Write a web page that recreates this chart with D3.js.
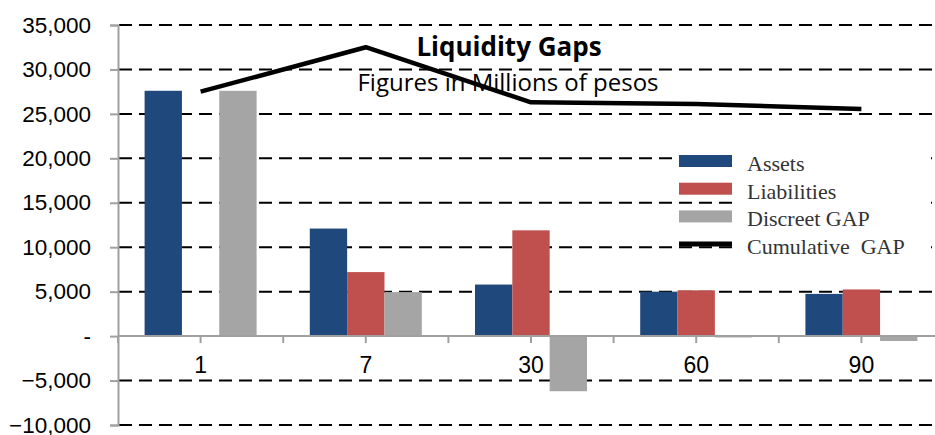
<!DOCTYPE html>
<html>
<head>
<meta charset="utf-8">
<script src="https://cdn.jsdelivr.net/npm/d3@7"></script>
<style>
  body { margin: 0; background: #fff; }
  svg { display: block; }
</style>
</head>
<body>
<div id="chart"></div>
<script>
var categories = ["1", "7", "30", "60", "90"];
var series = ["Assets", "Liabilities", "Discreet GAP"];
var assets = [27600, 12100, 5800, 5000, 4750];
var liabilities = [40, 7200, 11900, 5150, 5250];
var discreetGap = [27600, 4950, -6200, -150, -550];
var cumulativeGap = [27500, 32500, 26300, 26100, 25550];
var yTicks = [-10000, -5000, 0, 5000, 10000, 15000, 20000, 25000, 30000, 35000];

var colors = {"Assets": "#1F497D", "Liabilities": "#C0504D", "Discreet GAP": "#A5A5A5"};

var W = 935, H = 435;
var svg = d3.select("#chart").append("svg")
    .attr("width", W)
    .attr("height", H);

// scales
var x = d3.scaleBand()
    .domain(categories)
    .range([118, 944])
    .paddingInner(0.322)
    .paddingOuter(0.161);

var xSub = d3.scaleBand()
    .domain(series)
    .range([0, x.bandwidth()]);

var y = d3.scaleLinear()
    .domain([-10000, 35000])
    .range([425, 25]);

var rows = categories.map(function(c, i) {
  return {cat: c, vals: [
    {s: "Assets", v: assets[i]},
    {s: "Liabilities", v: liabilities[i]},
    {s: "Discreet GAP", v: discreetGap[i]}
  ]};
});

// gridlines (dashed), zero is the axis line
svg.append("g")
  .selectAll("line")
  .data(yTicks.filter(function(d) { return d !== 0; }))
  .enter().append("line")
    .attr("x1", 119)
    .attr("x2", W)
    .attr("y1", function(d) { return y(d); })
    .attr("y2", function(d) { return y(d); })
    .style("stroke", "#000")
    .style("stroke-width", 2)
    .style("stroke-dasharray", "13,7");

// y axis
var yAxis = d3.axisLeft(y)
    .tickValues(yTicks)
    .tickSize(8)
    .tickPadding(19)
    .tickFormat(function(d) { return d === 0 ? "-" : d3.format(",")(d); });

var gy = svg.append("g")
    .attr("transform", "translate(118,0)")
    .call(yAxis);
gy.select(".domain").style("stroke", "#A0A0A0").style("stroke-width", 2);
gy.selectAll(".tick line").style("stroke", "#A0A0A0").style("stroke-width", 2);
gy.selectAll(".tick text")
    .style("font-family", "'Liberation Sans', Arial, sans-serif")
    .style("font-size", "22.5px")
    .style("fill", "#000");

// bars
var groups = svg.append("g")
  .selectAll("g")
  .data(rows)
  .enter().append("g")
    .attr("transform", function(d) { return "translate(" + x(d.cat) + ",0)"; });

groups.selectAll("rect")
  .data(function(d) { return d.vals; })
  .enter().append("rect")
    .attr("x", function(d) { return xSub(d.s); })
    .attr("width", xSub.bandwidth())
    .attr("y", function(d) { return y(Math.max(0, d.v)); })
    .attr("height", function(d) { return Math.abs(y(d.v) - y(0)); })
    .style("fill", function(d) { return colors[d.s]; });

// x axis line at zero
svg.append("line")
    .attr("x1", 118).attr("x2", W)
    .attr("y1", y(0)).attr("y2", y(0))
    .style("stroke", "#A0A0A0")
    .style("stroke-width", 2);

// x ticks at category centres and boundaries
var tickXs = [];
categories.forEach(function(c) {
  tickXs.push(x(c) - x.step() * x.paddingOuter());
  tickXs.push(x(c) + x.bandwidth() / 2);
});
svg.append("g")
  .selectAll("line")
  .data(tickXs)
  .enter().append("line")
    .attr("x1", function(d) { return d; })
    .attr("x2", function(d) { return d; })
    .attr("y1", y(0))
    .attr("y2", y(0) + 7)
    .style("stroke", "#A0A0A0")
    .style("stroke-width", 2);

svg.append("g")
  .selectAll("text")
  .data(categories)
  .enter().append("text")
    .attr("x", function(d) { return x(d) + x.bandwidth() / 2; })
    .attr("y", 373)
    .style("text-anchor", "middle")
    .style("font-family", "'Liberation Sans', Arial, sans-serif")
    .style("font-size", "23px")
    .text(function(d) { return d; });

// cumulative line
var line = d3.line()
    .x(function(d, i) { return x(categories[i]) + x.bandwidth() / 2; })
    .y(function(d) { return y(d); });

svg.append("path")
    .datum(cumulativeGap)
    .attr("d", line)
    .style("fill", "none")
    .style("stroke", "#000")
    .style("stroke-width", 4.5)
    .style("stroke-linejoin", "round");

// title
svg.append("text")
    .attr("x", 509)
    .attr("y", 56)
    .style("text-anchor", "middle")
    .style("font-family", "'Open Sans', Lato, sans-serif")
    .style("font-weight", "bold")
    .style("font-size", "26px")
    .text("Liquidity Gaps");

svg.append("text")
    .attr("x", 508)
    .attr("y", 91)
    .style("text-anchor", "middle")
    .style("font-family", "'Open Sans', Lato, sans-serif")
    .style("font-size", "24px")
    .text("Figures in Millions of pesos");

// legend
var legend = svg.append("g");
legend.append("rect")
    .attr("x", 733).attr("y", 148)
    .attr("width", 198).attr("height", 114)
    .style("fill", "#fff");

var legendItems = series.concat(["Cumulative  GAP"]);
var li = legend.selectAll("g.item")
  .data(legendItems)
  .enter().append("g")
    .attr("class", "item")
    .attr("transform", function(d, i) { return "translate(679," + (161 + i * 27.7) + ")"; });

li.each(function(d, i) {
  var g = d3.select(this);
  if (i < 3) {
    g.append("rect")
      .attr("x", 0).attr("y", -6)
      .attr("width", 53).attr("height", 12)
      .style("fill", colors[d]);
  } else {
    g.append("line")
      .attr("x1", 0).attr("x2", 53)
      .attr("y1", 0).attr("y2", 0)
      .style("stroke", "#000")
      .style("stroke-width", 5);
  }
  g.append("text")
    .attr("x", 68)
    .attr("y", 10)
    .style("font-family", "'Liberation Serif', 'Times New Roman', serif")
    .style("font-size", "22px")
    .style("fill", "#333")
    .style("white-space", "pre")
    .text(d);
});
</script>
</body>
</html>
